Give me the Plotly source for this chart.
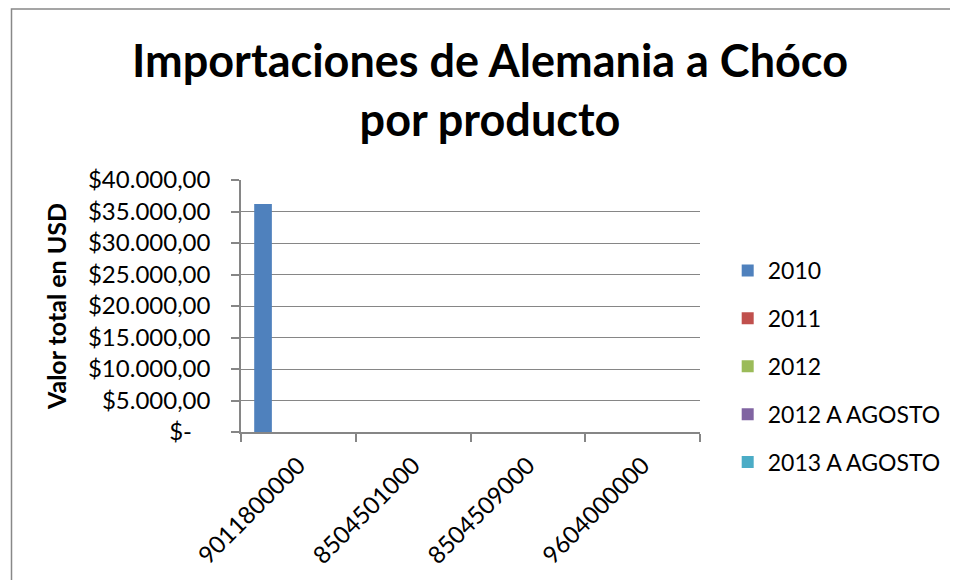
import plotly.graph_objects as go

categories = ["9011800000", "8504501000", "8504509000", "9604000000"]
series_names = ["2010", "2011", "2012", "2012 A AGOSTO", "2013 A AGOSTO"]
values_2010 = [36200, 0, 0, 0]
values_2011 = [0, 0, 0, 0]
values_2012 = [0, 0, 0, 0]
values_2012_ago = [0, 0, 0, 0]
values_2013_ago = [0, 0, 0, 0]
series_values = [values_2010, values_2011, values_2012, values_2012_ago, values_2013_ago]
colors = ["#4F81BD", "#C0504D", "#9BBB59", "#8064A2", "#4BACC6"]

y_tickvals = [0, 5000, 10000, 15000, 20000, 25000, 30000, 35000, 40000]
y_ticktext = ["$-\u00a0\u00a0\u00a0", "$5.000,00", "$10.000,00", "$15.000,00", "$20.000,00",
              "$25.000,00", "$30.000,00", "$35.000,00", "$40.000,00"]

FONT = "Lato"
GRID = "#868686"

fig = go.Figure()
for name, vals, col in zip(series_names, series_values, colors):
    fig.add_trace(go.Bar(x=categories, y=vals, name=name, marker_color=col,
                         marker_line_width=0, legendgroup=name))

# page offset of the plot div (body margin)
OFF = 8
CW, CH = 958 - OFF, 580 - OFF
# plot-area geometry (page pixels)
L, R, T, B = 241, 705, 180, 432
W, H = R - L, B - T
def px(x):
    return (x - L) / W
def py(y):
    return (B - y) / H

fig.update_layout(
    width=CW, height=CH,
    margin=dict(l=L - OFF, r=CW - (R - OFF), t=T - OFF, b=CH - (B - OFF)),
    paper_bgcolor="white", plot_bgcolor="white",
    font=dict(family=FONT, color="black", size=24),
    barmode="group", bargap=0.23, bargroupgap=0,
    title=dict(text="Importaciones de Alemania a Chóco<br>por producto",
               font=dict(family=FONT, size=45, color="black", weight="bold"),
               x=(490 - OFF) / CW, xanchor="center", xref="container",
               y=1 - 69 / CH, yanchor="top", yref="container"),
    legend=dict(x=px(733), y=py(249), xanchor="left", yanchor="top",
                font=dict(family=FONT, size=23), tracegroupgap=15,
                bgcolor="rgba(0,0,0,0)"),
    xaxis=dict(type="category", showgrid=False, showline=True, linecolor=GRID, linewidth=1.5,
               ticks="outside", tickson="boundaries", ticklen=8, tickcolor=GRID, tickwidth=1.5,
               tickangle=-45, tickfont=dict(family=FONT, size=24), ticklabelstandoff=8),
    yaxis=dict(range=[0, 40000], tickvals=y_tickvals, ticktext=y_ticktext,
               showgrid=True, gridcolor=GRID, gridwidth=1.2,
               showline=True, linecolor=GRID, linewidth=1.5,
               ticks="outside", ticklen=8, tickcolor=GRID, tickwidth=1.5,
               tickfont=dict(family=FONT, size=24), ticklabelstandoff=16,
               zeroline=False,
               title=dict(text="Valor total en USD",
                          font=dict(family=FONT, size=25, weight="bold"), standoff=14)),
    shapes=[dict(type="rect", xref="paper", yref="paper",
                 x0=px(9), x1=px(1000), y0=py(620), y1=py(9),
                 line=dict(color="#888888", width=1.5), fillcolor="rgba(0,0,0,0)", layer="below")],
)

fig.write_html("out.html")
